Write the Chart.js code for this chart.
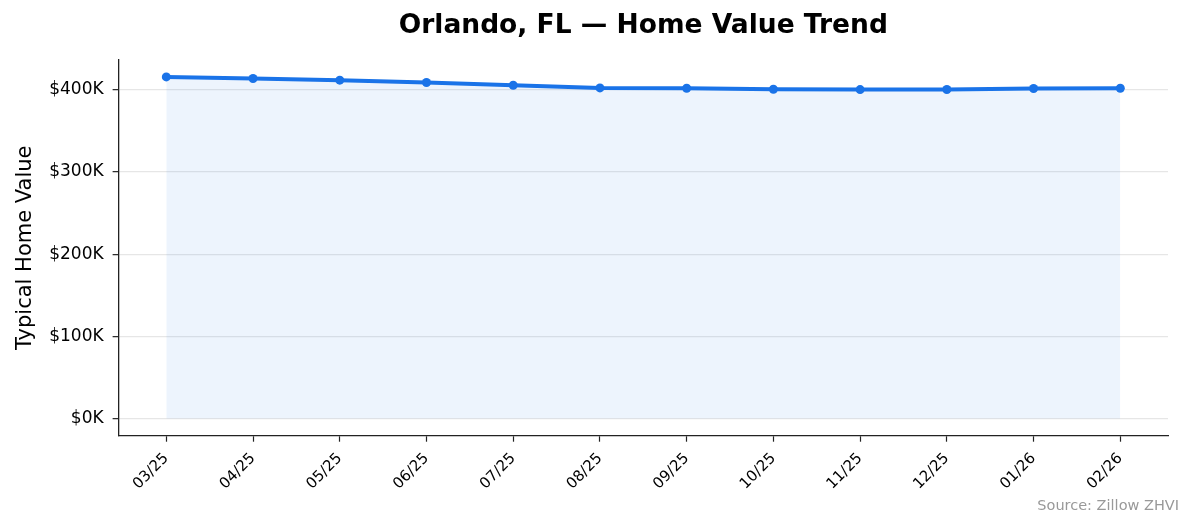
<!DOCTYPE html>
<html>
<head>
<meta charset="utf-8">
<script src="https://cdn.jsdelivr.net/npm/chart.js@4.4.1/dist/chart.umd.min.js"></script>
<style>
  html, body { margin: 0; padding: 0; background: #fff; }
  #wrap { width: 1194px; height: 529px; position: relative; }
</style>
</head>
<body>
<div id="wrap"><canvas id="homeChart"></canvas></div>
<script>
var months = ["03/25", "04/25", "05/25", "06/25", "07/25", "08/25", "09/25", "10/25", "11/25", "12/25", "01/26", "02/26"];
var homeValues = [415600, 413700, 411600, 408800, 405500, 402200, 401800, 400600, 400200, 400300, 401500, 401800];
var yTicks = [0, 100000, 200000, 300000, 400000];

Chart.defaults.font.family = "'DejaVu Sans', sans-serif";
Chart.defaults.color = "#000";

// small grey source line, bottom right like the original
var sourceNote = {
    id: "sourceNote",
    afterDraw: function(chart) {
        var ctx = chart.ctx;
        ctx.save();
        ctx.font = "14.5px 'DejaVu Sans', sans-serif";
        ctx.fillStyle = "#999";
        ctx.textAlign = "right";
        ctx.textBaseline = "middle";
        ctx.fillText("Source: Zillow ZHVI", 1179, 506);
        ctx.restore();
    }
};

new Chart("homeChart", {
    type: "line",
    data: {
        datasets: [{
            data: homeValues.map(function(v, i) { return {x: i, y: v}; }),
            borderColor: "#1a73e8",
            borderWidth: 4,
            backgroundColor: "rgba(26,115,232,0.08)",
            fill: "origin",
            pointRadius: 4.5,
            pointBackgroundColor: "#1a73e8",
            pointBorderWidth: 0,
            tension: 0
        }]
    },
    options: {
        responsive: true,
        maintainAspectRatio: false,
        animation: false,
        layout: { padding: { left: 11, right: 26, top: 0, bottom: 28 } },
        plugins: {
            legend: { display: false },
            tooltip: { enabled: false },
            title: {
                display: true,
                fullSize: false,
                text: "Orlando, FL \u2014 Home Value Trend",
                font: { size: 26.5, weight: "bold" },
                color: "#000",
                padding: { top: 10, bottom: 18 }
            }
        },
        scales: {
            x: {
                type: "linear",
                min: -0.55,
                max: 11.55,
                afterBuildTicks: function(axis) {
                    axis.ticks = months.map(function(m, i) { return {value: i}; });
                },
                ticks: {
                    autoSkip: false,
                    maxRotation: 45,
                    minRotation: 45,
                    font: { size: 15 },
                    padding: 8,
                    callback: function(value) { return months[value]; }
                },
                grid: { drawOnChartArea: false, tickColor: "#222", tickLength: 6, tickWidth: 1.2 },
                border: { color: "#222", width: 1.3 }
            },
            y: {
                min: -20800,
                max: 436400,
                afterBuildTicks: function(axis) {
                    axis.ticks = yTicks.map(function(v) { return {value: v}; });
                },
                ticks: {
                    font: { size: 17 },
                    padding: 9,
                    callback: function(value) { return "$" + Math.round(value / 1000) + "K"; }
                },
                grid: { color: "#e6e6e6", lineWidth: 1.3, tickColor: "#222", tickLength: 6, tickWidth: 1.2 },
                border: { color: "#222", width: 1.3 },
                title: {
                    display: true,
                    text: "Typical Home Value",
                    font: { size: 21 },
                    padding: { top: 2, bottom: 2 }
                }
            }
        }
    },
    plugins: [sourceNote]
});
</script>
</body>
</html>
